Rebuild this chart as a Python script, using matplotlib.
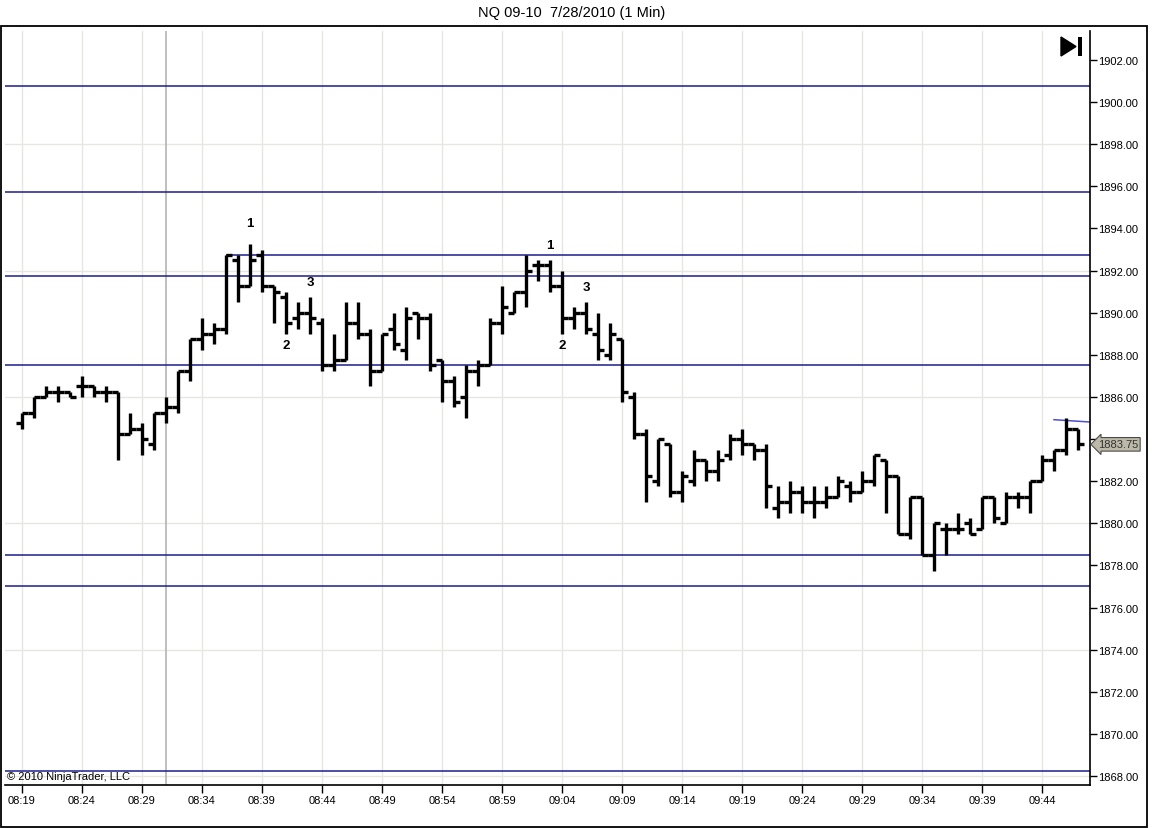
import numpy as np
import matplotlib
matplotlib.use("Agg")
import matplotlib.pyplot as plt
from matplotlib.patches import Polygon, Rectangle
from matplotlib.transforms import blended_transform_factory

plt.rcParams["font.family"] = ["Liberation Sans", "DejaVu Sans"]

# NQ 09-10, 1-minute bars 08:19 .. 09:47
opens = [1884.75, 1885.25, 1886.0, 1886.25, 1886.25, 1886.5, 1886.5, 1886.25, 1886.25, 1884.25,
         1884.5, 1883.75, 1885.25, 1885.5, 1887.25, 1888.75, 1889.0, 1889.25, 1892.5, 1891.25,
         1892.75, 1891.25, 1890.75, 1889.75, 1890.0, 1889.5, 1887.5, 1887.75, 1889.5, 1889.0,
         1887.25, 1889.25, 1888.25, 1890.0, 1889.75, 1887.75, 1886.75, 1886.0, 1887.25, 1887.5,
         1889.5, 1890.0, 1891.0, 1892.25, 1892.25, 1891.25, 1889.75, 1890.0, 1889.0, 1888.0,
         1888.75, 1886.0, 1884.25, 1882.0, 1883.75, 1881.5, 1882.0, 1883.0, 1882.5, 1883.25,
         1884.0, 1883.75, 1883.5, 1880.75, 1881.0, 1881.5, 1881.0, 1881.0, 1881.25, 1881.75,
         1881.5, 1882.0, 1883.0, 1882.25, 1879.5, 1881.25, 1878.5, 1879.75, 1879.75, 1880.0,
         1879.75, 1881.25, 1880.0, 1881.25, 1881.25, 1882.0, 1883.0, 1883.5, 1884.5]
highs = [1885.25, 1886.0, 1886.5, 1886.5, 1886.25, 1887.0, 1886.5, 1886.5, 1886.25, 1885.25,
         1884.75, 1885.25, 1886.0, 1887.25, 1888.75, 1889.75, 1889.5, 1892.75, 1892.75, 1893.25,
         1893.0, 1891.25, 1891.0, 1890.5, 1890.75, 1889.75, 1889.0, 1890.5, 1890.5, 1889.25,
         1889.0, 1890.0, 1890.25, 1890.0, 1890.0, 1887.75, 1887.0, 1887.5, 1887.75, 1889.75,
         1891.25, 1891.0, 1892.75, 1892.5, 1892.5, 1892.0, 1890.25, 1890.5, 1890.0, 1889.5,
         1888.75, 1886.25, 1884.5, 1884.0, 1883.75, 1882.5, 1883.5, 1883.0, 1883.5, 1884.25,
         1884.5, 1883.75, 1883.75, 1881.75, 1882.0, 1881.75, 1881.75, 1881.75, 1882.25, 1882.0,
         1882.5, 1883.25, 1883.0, 1882.25, 1881.25, 1881.25, 1880.0, 1880.0, 1880.5, 1880.25,
         1881.25, 1881.25, 1881.5, 1881.5, 1882.0, 1883.25, 1883.5, 1885.0, 1884.5]
lows = [1884.5, 1885.0, 1886.0, 1885.75, 1886.0, 1886.0, 1886.0, 1885.75, 1883.0, 1884.25,
        1883.25, 1883.5, 1884.75, 1885.25, 1886.75, 1888.25, 1888.5, 1889.0, 1890.5, 1891.25,
        1891.0, 1889.5, 1889.0, 1889.25, 1889.0, 1887.25, 1887.25, 1887.75, 1888.75, 1886.5,
        1887.25, 1888.25, 1887.75, 1888.75, 1887.25, 1885.75, 1885.5, 1885.0, 1886.5, 1887.5,
        1889.0, 1890.0, 1890.25, 1891.5, 1891.0, 1889.0, 1889.25, 1889.0, 1887.75, 1887.75,
        1885.75, 1884.0, 1881.0, 1881.75, 1881.25, 1881.0, 1881.75, 1882.0, 1882.0, 1883.0,
        1883.25, 1883.0, 1880.75, 1880.25, 1880.5, 1880.5, 1880.25, 1880.75, 1881.25, 1881.0,
        1881.5, 1881.75, 1880.5, 1879.5, 1879.25, 1878.5, 1877.75, 1878.5, 1879.5, 1879.5,
        1879.75, 1880.0, 1880.0, 1880.75, 1880.5, 1882.0, 1882.5, 1883.25, 1883.5]
closes = [1885.25, 1886.0, 1886.25, 1886.25, 1886.0, 1886.5, 1886.25, 1886.25, 1884.25, 1884.5,
          1884.0, 1885.25, 1885.5, 1887.25, 1888.75, 1889.0, 1889.25, 1892.75, 1891.25, 1892.5,
          1891.25, 1891.0, 1889.5, 1890.0, 1889.75, 1887.5, 1887.75, 1889.5, 1889.0, 1887.25,
          1889.0, 1888.5, 1889.75, 1889.75, 1887.5, 1886.75, 1885.75, 1887.25, 1887.5, 1889.5,
          1890.25, 1891.0, 1892.0, 1892.25, 1891.25, 1889.75, 1890.0, 1889.25, 1888.25, 1889.0,
          1886.25, 1884.25, 1882.25, 1884.0, 1881.5, 1882.25, 1883.0, 1882.5, 1883.0, 1884.0,
          1883.75, 1883.5, 1881.75, 1881.0, 1881.5, 1881.0, 1881.0, 1881.25, 1882.0, 1881.5,
          1882.0, 1883.25, 1882.25, 1879.5, 1881.25, 1878.5, 1880.0, 1879.75, 1879.75, 1879.5,
          1881.25, 1880.25, 1881.25, 1881.25, 1882.0, 1883.0, 1883.5, 1884.5, 1883.75]

time_labels = ["08:19", "08:24", "08:29", "08:34", "08:39", "08:44", "08:49", "08:54", "08:59",
               "09:04", "09:09", "09:14", "09:19", "09:24", "09:29", "09:34", "09:39", "09:44"]
session_bar = 12          # 08:31, first bar of the regular session

# drawn horizontal levels (price, first bar; None = whole chart)
levels = [1900.75, 1895.75, 1892.75, 1891.75, 1887.5, 1878.5, 1877.0, 1868.25]
level_start = [None, None, 17, None, None, None, None, None]
trend_x = [86.0, 89.0]
trend_y = [1884.92, 1884.81]

# swing labels: bar, text, above/below
swing_bar = [19, 22, 24, 44, 45, 47]
swing_txt = ["1", "2", "3", "1", "2", "3"]
swing_up = [True, False, True, True, False, True]

W, H = 1152, 829
fig = plt.figure(figsize=(W / 100, H / 100), dpi=100)
ax = fig.add_axes([5 / W, 43 / H, 1085 / W, 754 / H])

x = np.arange(len(closes))
XMIN, XMAX = -17 / 12, 89.0
ax.set_xlim(XMIN, XMAX)
ax.set_ylim(1867.574, 1903.377)

# grid
for t in x[::5]:
    ax.axvline(t, color="#e8e6e3", lw=1, zorder=0)
for g in np.arange(1868, 1903, 6):
    ax.axhline(g, color="#e8e6e3", lw=1, zorder=0)
ax.axvline(session_bar, color="#b4b4b4", lw=1.2, zorder=0.5)

# levels
for lv, st in zip(levels, level_start):
    x0 = XMIN if st is None else st
    ax.hlines(lv, x0, XMAX, color="#1c1c8e", lw=1.1, zorder=1)
ax.plot(trend_x, trend_y, color="#5050d0", lw=1.1, zorder=1)

# OHLC bars
ax.vlines(x, lows, highs, color="black", lw=2.4, zorder=3)
ax.hlines(opens, x - 0.5, x, color="black", lw=2.4, zorder=3)
ax.hlines(closes, x, x + 0.5, color="black", lw=2.4, zorder=3)

for b, t, up in zip(swing_bar, swing_txt, swing_up):
    yv = highs[b] if up else lows[b]
    off = 15 if up else -11
    if b == 19:
        off = 21
    ax.annotate(t, (b, yv), xytext=(0, off), textcoords="offset pixels",
                ha="center", va="center", fontsize=9.5, fontweight="bold", zorder=4)

# axes (the label under the last-price marker is hidden, as in the platform)
yt = np.arange(1868, 1903, 2)
ax.yaxis.tick_right()
ax.set_yticks(yt)
ax.set_yticklabels(["" if abs(v - closes[-1]) < 1 else f"{v:.2f}" for v in yt])
ax.set_xticks(x[::5])
ax.set_xticklabels(time_labels)
ax.tick_params(axis="y", direction="out", length=5, width=1, pad=1, labelsize=8)
ax.tick_params(axis="x", direction="out", length=6, width=1, pad=1.5, labelsize=8)
for s in ["left", "top"]:
    ax.spines[s].set_visible(False)
for s in ["right", "bottom"]:
    ax.spines[s].set_linewidth(1.2)

# last price marker
tr = blended_transform_factory(ax.transAxes, ax.transData)
ax.text(1.0075, closes[-1], f"{closes[-1]:.2f}", transform=tr, fontsize=8, va="center", ha="left",
        color="#333333",
        bbox=dict(boxstyle="larrow,pad=0.16", fc="#bdb9a9", ec="#4a4a4a", lw=0.8), zorder=5,
        clip_on=False)

ax.text(0.002, 0.005, "\u00a9 2010 NinjaTrader, LLC", transform=ax.transAxes, fontsize=8,
        va="bottom", ha="left")

# "go to end" icon
def px(a, b):
    return (a / W, 1 - b / H)
fig.add_artist(Polygon([px(1061, 38), px(1061, 57), px(1076, 47.5)], closed=True,
                       fc="black", ec="black", transform=fig.transFigure))
fig.add_artist(Rectangle(px(1078, 57), 4 / W, 19 / H, fc="black", ec="none",
                         transform=fig.transFigure))

# outer frame and title
fig.add_artist(Rectangle((1 / W, 1 / H), 1146 / W, 801 / H, fill=False, ec="black", lw=1.3,
                         transform=fig.transFigure))
fig.text(572 / W, 1 - 13 / H, "NQ 09-10  7/28/2010 (1 Min)", ha="center", va="center", fontsize=10.5)

fig.savefig("out.png", dpi=100)
